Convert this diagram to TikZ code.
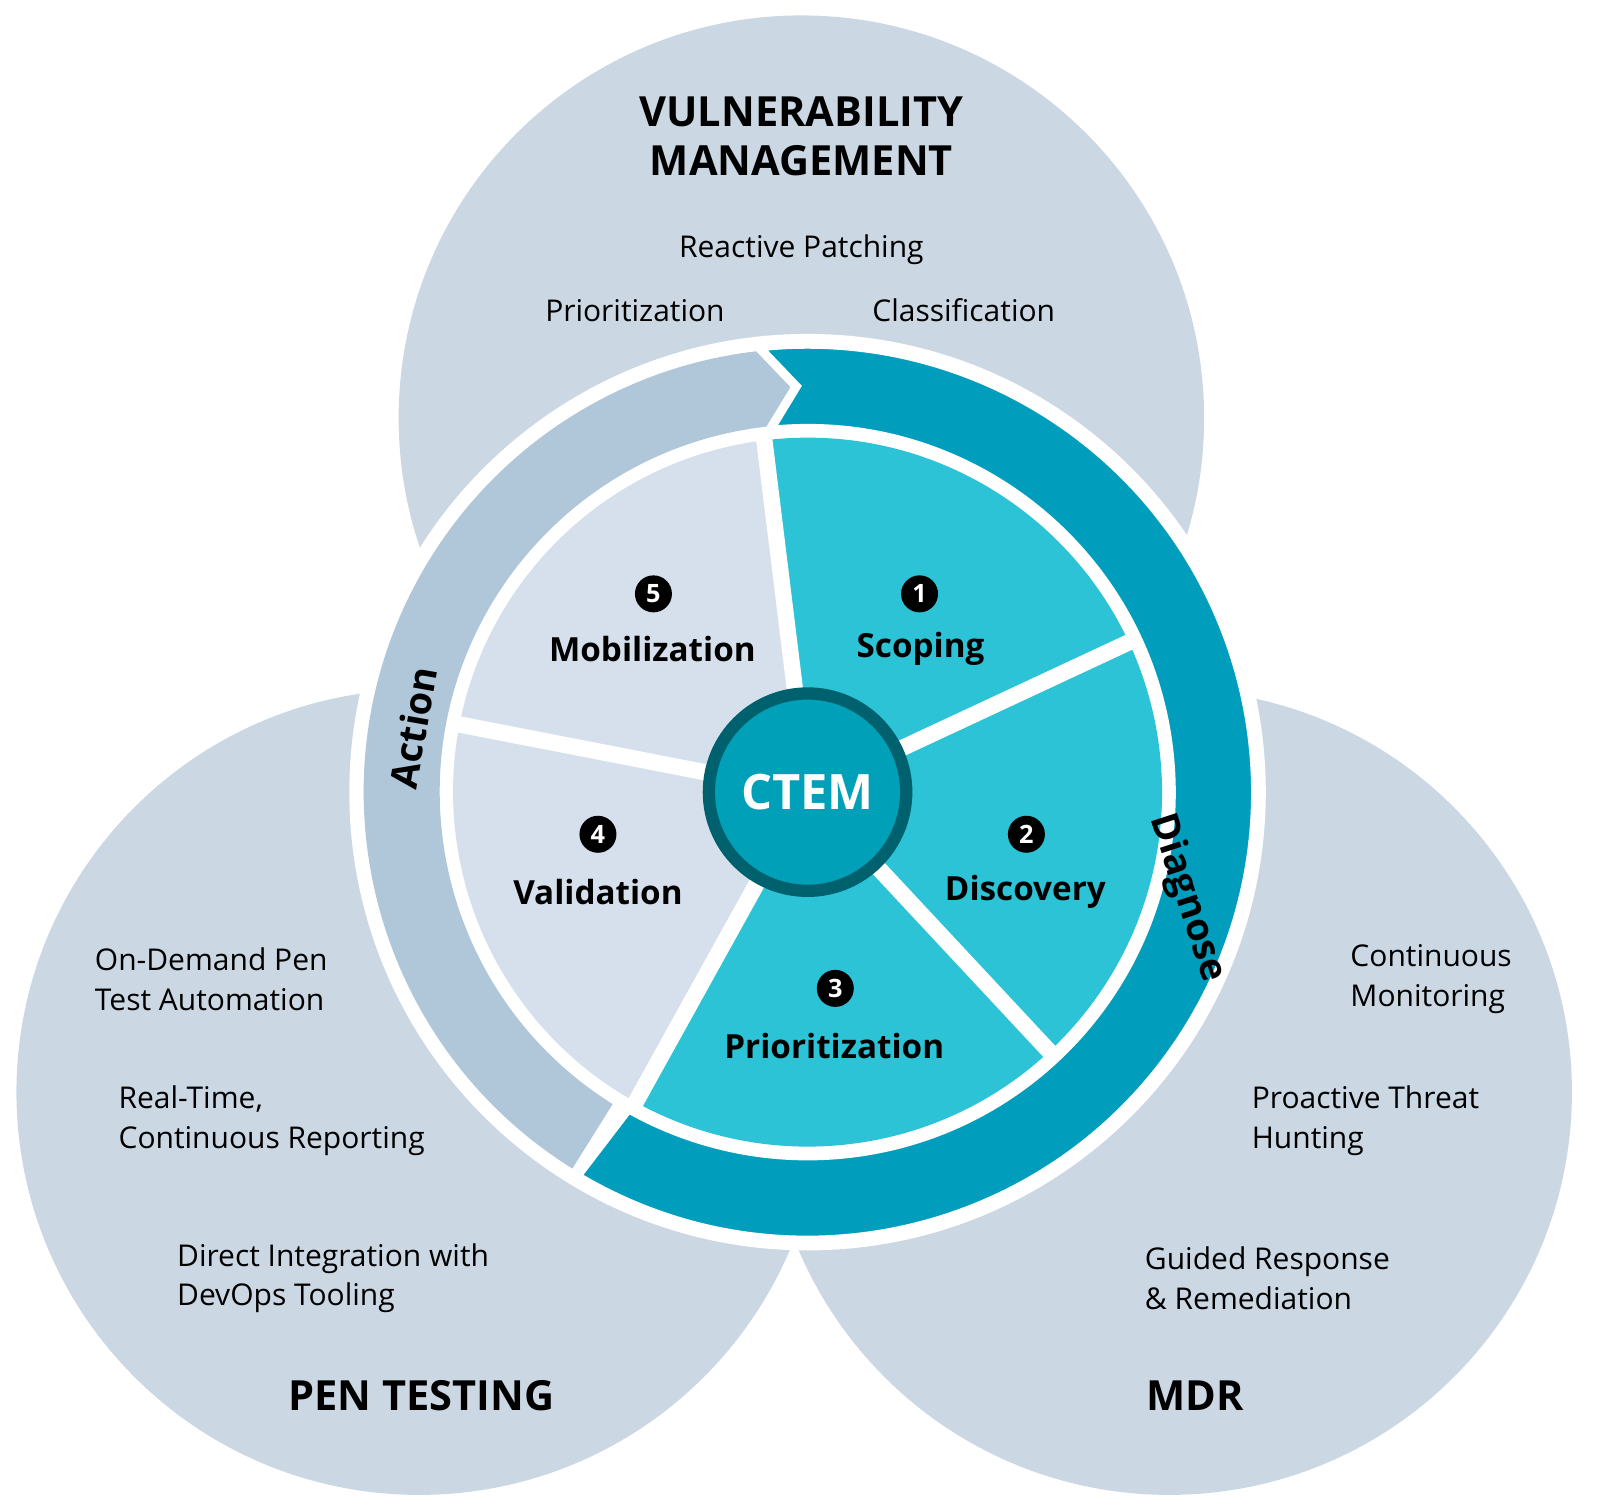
\documentclass[tikz,border=0pt]{standalone}
\usepackage{fontspec}
\setmainfont{Open Sans}
\definecolor{bigc}{HTML}{CBD8E4}
\definecolor{grayband}{HTML}{B0C6D9}
\definecolor{lightpie}{HTML}{D6E0EC}
\definecolor{cyanpie}{HTML}{2CC3D6}
\definecolor{tealband}{HTML}{009DBD}
\definecolor{ctemfill}{HTML}{00A0B8}
\definecolor{ctemring}{HTML}{00616E}
\begin{document}
\begin{tikzpicture}[x=0.01cm,y=-0.01cm,
  title/.style={font=\fontsize{11.5}{13.5}\selectfont\bfseries, align=center},
  body/.style={font=\fontsize{8.3}{11}\selectfont, align=left, anchor=west},
  bodyc/.style={font=\fontsize{8.3}{11}\selectfont},
  seg/.style={font=\fontsize{9.2}{11}\selectfont\bfseries},
  badge/.style={circle, fill=black, text=white, inner sep=0pt, minimum size=0.36cm, font=\fontsize{7}{8}\selectfont\bfseries},
  sep/.style={white, line width=4.5pt}]
\useasboundingbox (0,0) rectangle (1568,1469);
\fill[bigc] (780,407) circle (392);
\fill[bigc] (408,1063) circle (392);
\fill[bigc] (1138,1063) circle (392);
\coordinate (c) at (786,771);
\fill[white] (c) circle (446);
\begin{scope}[shift={(c)}, y=0.01cm]
\fill[grayband] (-122:432) arc[start angle=-122, end angle=-263.7, radius=432]
  -- (91.6:395) -- (96:358) arc[start angle=-264, end angle=-122, radius=358] -- cycle;
\fill[tealband,draw=white,line width=2.5pt,line join=miter] (96.3:436) -- (91.6:395) -- (96:354)
  arc[start angle=96, end angle=-119.5, radius=354] -- (-121:436)
  arc[start angle=-121, end angle=96.3, radius=436] -- cycle;
\fill[lightpie] (0,0) -- (97:345) arc[start angle=97, end angle=241, radius=345] -- cycle;
\fill[cyanpie] (0,0) -- (97:345) arc[start angle=97, end angle=-119, radius=345] -- cycle;
\foreach \a in {97,25,-47,-119,169} \draw[sep] (0,0) -- (\a:350);
\end{scope}
\node[circle, fill=ctemfill, draw=ctemring, line width=3.4pt, minimum size=1.92cm, text=white, font=\fontsize{13.5}{15}\selectfont\bfseries] (ctem) at (c) {CTEM};
\node[font=\fontsize{10.5}{12}\selectfont\bfseries, rotate=80] (action) at (402,708) {Action};
\node[font=\fontsize{10.5}{12}\selectfont\bfseries, rotate=-72] (diag) at (1155,874) {Diagnose};
\node[badge] (b5) at (636,578) {5}; \node[seg] (mob) at (635,632) {Mobilization};
\node[badge] (b1) at (895,578) {1}; \node[seg] (sco) at (896,632) {Scoping};
\node[badge] (b2) at (999,812) {2}; \node[seg] (dis) at (998,868) {Discovery};
\node[badge] (b4) at (582,812) {4}; \node[seg] (val) at (582,868) {Validation};
\node[badge] (b3) at (813,962) {3}; \node[seg] (pri) at (812,1018) {Prioritization};
\node[title] (vm) at (780,133) {VULNERABILITY\\MANAGEMENT};
\node[title] (pt) at (410,1358) {PEN TESTING};
\node[title] (mdr) at (1163,1358) {MDR};
\node[bodyc] (rp) at (780,243) {Reactive Patching};
\node[bodyc] (pz) at (618,302) {Prioritization};
\node[bodyc] (cl) at (938,302) {Classification};
\node[body] (t1) at (80,953) {On-Demand Pen\\Test Automation};
\node[body] (t2) at (103,1091) {Real-Time,\\Continuous Reporting};
\node[body] (t3) at (160,1244) {Direct Integration with\\DevOps Tooling};
\node[body] (t4) at (1302,953) {Continuous\\Monitoring};
\node[body] (t5) at (1206,1091) {Proactive Threat\\Hunting};
\node[body] (t6) at (1102,1244) {Guided Response\\\& Remediation};
\end{tikzpicture}
\end{document}
